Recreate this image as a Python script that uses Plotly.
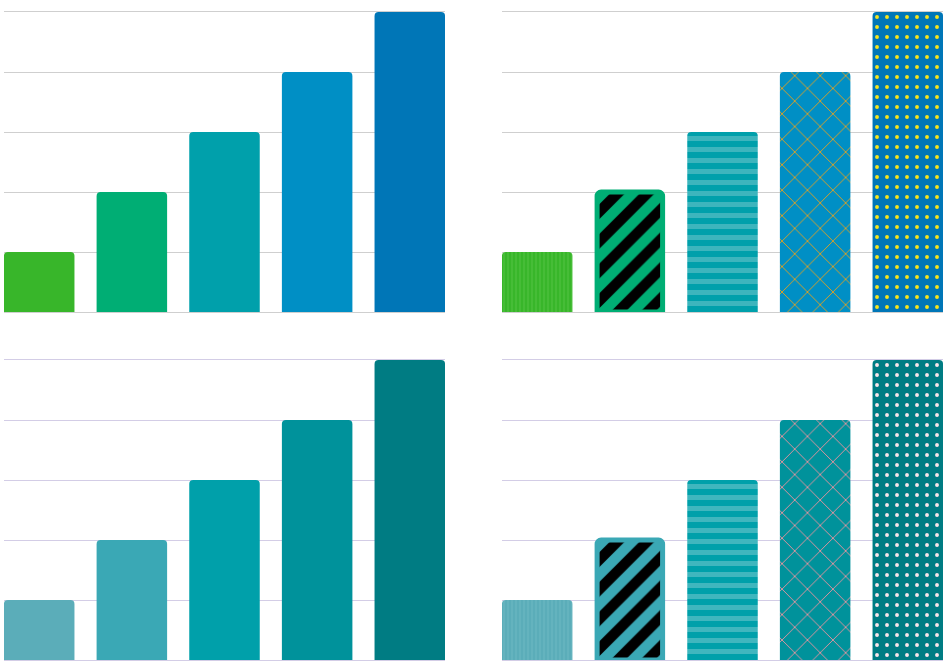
import plotly.graph_objects as go

categories = ["A", "B", "C", "D", "E"]
values = [1, 2, 3, 4, 5]

colors_top = ["#38b62a", "#00ae74", "#00a0ab", "#008fc5", "#0076b7"]
colors_bottom = ["#5badb9", "#3aa8b5", "#00a0aa", "#00929b", "#007c83"]

pattern_shapes = ["|", "/", "-", "x", "."]
pattern_fg_top = ["#4cc03c", "#000000", "#3db5bd", "#e0a020", "#f7e51c"]
pattern_fg_bottom = ["#68b6c1", "#000000", "#40b6be", "#e8939e", "#fbe4ea"]
pattern_size = [4, 21, 11, 18, 10]
pattern_solidity = [0.35, 0.5, 0.45, 0.1, 0.12]
border_width = [0, 5, 0, 0, 0]

grid_top = "#cfcfcf"
grid_bottom = "#d3cde6"

BAR_W = 0.761
PX_PER_UNIT = 92.6

fig = go.Figure()

def axis_suffix(row_idx, col_idx):
    n = row_idx * 2 + col_idx
    return "" if n == 0 else str(n + 1)

def add_plain(row_idx, col_idx, colors):
    ax = axis_suffix(row_idx, col_idx)
    fig.add_trace(go.Bar(x=categories, y=values, width=[BAR_W] * len(values),
                         marker=dict(color=colors, line=dict(width=0)),
                         xaxis="x" + ax, yaxis="y" + ax, showlegend=False,
                         hoverinfo="skip"))

def add_patterned(row_idx, col_idx, colors, fgs):
    ax = axis_suffix(row_idx, col_idx)
    for i, (cat, val) in enumerate(zip(categories, values)):
        bw = border_width[i]
        fig.add_trace(go.Bar(
            x=[cat], y=[val], width=[BAR_W - bw / PX_PER_UNIT],
            marker=dict(
                color=colors[i],
                line=dict(color=colors[i], width=bw),
                pattern=dict(shape=pattern_shapes[i], fgcolor=fgs[i],
                             bgcolor=colors[i], size=pattern_size[i],
                             solidity=pattern_solidity[i], fgopacity=1,
                             fillmode="overlay"),
            ),
            xaxis="x" + ax, yaxis="y" + ax, showlegend=False, hoverinfo="skip"))

add_plain(0, 0, colors_top)
add_patterned(0, 1, colors_top, pattern_fg_top)
add_plain(1, 0, colors_bottom)
add_patterned(1, 1, colors_bottom, pattern_fg_bottom)

W, H = 951, 672
xdoms = [[4 / W, 445 / W], [502 / W, 943 / W]]
ydoms = [[1 - 312 / H, 1 - 12 / H], [1 - 660 / H, 1 - 360 / H]]

layout = dict(width=W, height=H, margin=dict(l=0, r=0, t=0, b=0),
              paper_bgcolor="white", plot_bgcolor="white",
              barcornerradius=4, barmode="overlay")
for i in range(4):
    r, c = divmod(i, 2)
    suf = "" if i == 0 else str(i + 1)
    gc = grid_top if r == 0 else grid_bottom
    layout["xaxis" + suf] = dict(domain=xdoms[c], range=[-0.38, 4.38],
                                 type="category",
                                 showgrid=False, showticklabels=False,
                                 zeroline=False, showline=True, mirror=True,
                                 linecolor=gc, linewidth=1, ticks="",
                                 anchor="y" + suf, fixedrange=True)
    layout["yaxis" + suf] = dict(domain=ydoms[r], range=[0, 5], dtick=1,
                                 showgrid=True, gridcolor=gc, gridwidth=1,
                                 showticklabels=False, zeroline=False,
                                 showline=False, ticks="",
                                 anchor="x" + suf, fixedrange=True)
fig.update_layout(**layout)
fig.write_html("out.html", config={"displayModeBar": False},
               post_script="document.body.style.margin='0';document.body.style.overflow='hidden';")
